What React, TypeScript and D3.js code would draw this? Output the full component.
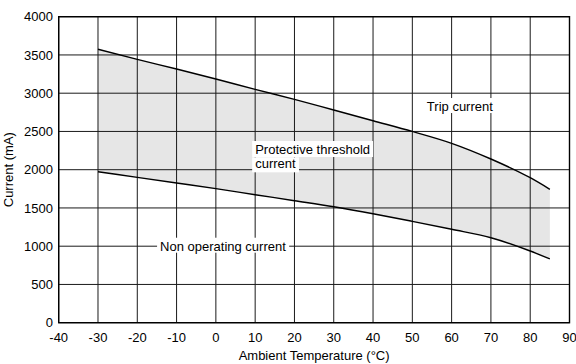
import React, { useEffect, useRef } from "react";
import * as d3 from "d3";

const W = 576;
const H = 364;

const tripTemps = [-30, -20, -10, 0, 10, 20, 30, 40, 50, 60, 70, 80, 85];
const tripValues = [3575, 3443, 3316, 3185, 3050, 2920, 2780, 2640, 2500, 2345, 2140, 1895, 1744];

const nonOpTemps = [-30, -20, -10, 0, 10, 20, 30, 40, 50, 60, 70, 80, 85];
const nonOpValues = [1974, 1900, 1826, 1752, 1673, 1595, 1516, 1425, 1325, 1221, 1111, 937, 833];

const xTicks = [-40, -30, -20, -10, 0, 10, 20, 30, 40, 50, 60, 70, 80, 90];
const yTicks = [0, 500, 1000, 1500, 2000, 2500, 3000, 3500, 4000];

const xTitle = "Ambient Temperature (\u00B0C)";
const yTitle = "Current (mA)";

const labels = [
  { lines: ["Trip current"], t: 53.7, v: 2767, box: false },
  { lines: ["Protective threshold", "current"], t: 10.0, v: 2205, box: true },
  { lines: ["Non operating current"], t: -14.2, v: 941, box: true },
];

const FONT = "'Liberation Sans', Arial, Helvetica, sans-serif";

export default function App() {
  const ref = useRef<SVGSVGElement>(null);

  useEffect(() => {
    const svg = d3.select(ref.current);
    svg.selectAll("*").remove();

    const x = d3.scaleLinear().domain([-40, 90]).range([58.7, 569.5]);
    const y = d3.scaleLinear().domain([0, 4000]).range([322.7, 16.7]);

    const trip = tripTemps.map((t, i) => [t, tripValues[i]] as [number, number]);
    const nonop = nonOpTemps.map((t, i) => [t, nonOpValues[i]] as [number, number]);

    // fill area between curves
    const area = d3
      .area<[number, number]>()
      .x((d) => x(d[0]))
      .y0((d, i) => y(nonop[i][1]))
      .y1((d) => y(d[1]))
      .curve(d3.curveMonotoneX);
    svg.append("path").attr("d", area(trip)).attr("fill", "#e6e6e6");

    // grid
    const g = svg.append("g");
    xTicks.forEach((t) => {
      g.append("line")
        .attr("x1", x(t)).attr("x2", x(t))
        .attr("y1", y(0)).attr("y2", y(4000))
        .attr("stroke", "#1a1a1a").attr("stroke-width", 1);
    });
    yTicks.forEach((v) => {
      g.append("line")
        .attr("x1", x(-40)).attr("x2", x(90))
        .attr("y1", y(v)).attr("y2", y(v))
        .attr("stroke", "#1a1a1a").attr("stroke-width", 1);
    });
    // border
    svg.append("rect")
      .attr("x", x(-40)).attr("y", y(4000))
      .attr("width", x(90) - x(-40)).attr("height", y(0) - y(4000))
      .attr("fill", "none").attr("stroke", "#000").attr("stroke-width", 1.4);

    // curves
    const line = d3
      .line<[number, number]>()
      .x((d) => x(d[0]))
      .y((d) => y(d[1]))
      .curve(d3.curveMonotoneX);
    svg.append("path").attr("d", line(trip)).attr("fill", "none").attr("stroke", "#000").attr("stroke-width", 1.4);
    svg.append("path").attr("d", line(nonop)).attr("fill", "none").attr("stroke", "#000").attr("stroke-width", 1.4);

    // labels with white boxes
    const lineH = 14.3;
    labels.forEach((lb) => {
      const lg = svg.append("g");
      const texts: any[] = [];
      lb.lines.forEach((s, i) => {
        const tx = lg.append("text")
          .attr("x", x(lb.t)).attr("y", y(lb.v) + i * lineH)
          .attr("font-family", FONT).attr("font-size", 13).attr("fill", "#000")
          .text(s);
        texts.push(tx);
      });
      texts.forEach((tx, i) => {
        const bb = (tx.node() as SVGTextElement).getBBox();
        lg.insert("rect", "text")
          .attr("x", bb.x - 3).attr("y", i === 0 ? bb.y - 1 : bb.y + 1)
          .attr("width", bb.width + 6).attr("height", bb.height + (lb.lines.length > 1 && i === 0 ? 1 : 0))
          .attr("fill", "#fff");
      });
    });

    // tick labels
    xTicks.forEach((t) => {
      svg.append("text")
        .attr("x", x(t)).attr("y", 342)
        .attr("text-anchor", "middle")
        .attr("font-family", FONT).attr("font-size", 13).attr("fill", "#000")
        .text(String(t));
    });
    yTicks.forEach((v) => {
      svg.append("text")
        .attr("x", 53).attr("y", y(v) + 4.6)
        .attr("text-anchor", "end")
        .attr("font-family", FONT).attr("font-size", 13).attr("fill", "#000")
        .text(String(v));
    });

    svg.append("text")
      .attr("x", (x(-40) + x(90)) / 2).attr("y", 360)
      .attr("text-anchor", "middle")
      .attr("font-family", FONT).attr("font-size", 13).attr("fill", "#000")
      .text(xTitle);
    svg.append("text")
      .attr("transform", `translate(13,${(y(0) + y(4000)) / 2}) rotate(-90)`)
      .attr("text-anchor", "middle")
      .attr("font-family", FONT).attr("font-size", 13).attr("fill", "#000")
      .text(yTitle);
  }, []);

  return (
    <svg
      ref={ref}
      width={W}
      height={H}
      style={{ position: "absolute", left: 0, top: 0, background: "#fff" }}
    />
  );
}
